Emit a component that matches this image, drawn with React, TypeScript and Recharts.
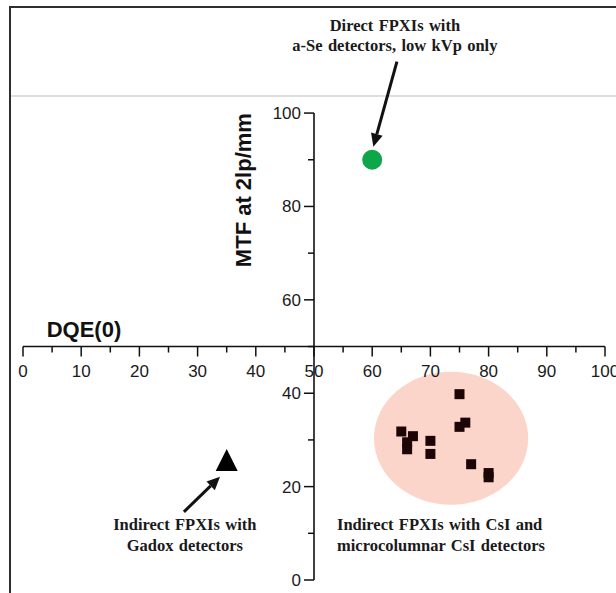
import React from "react";
import {
  ScatterChart,
  Scatter,
  XAxis,
  YAxis,
  ReferenceLine,
  ReferenceDot,
  ReferenceArea,
} from "recharts";

// DQE(0) (%) vs MTF at 2 lp/mm (%)
const seleniumPoints = [{ x: 60, y: 90 }];
const gadoxPoints = [{ x: 35, y: 25.7 }];
const csiPoints = [
  { x: 65, y: 31.8 },
  { x: 67, y: 30.8 },
  { x: 66, y: 29.5 },
  { x: 66, y: 28 },
  { x: 70, y: 29.8 },
  { x: 70, y: 27 },
  { x: 75, y: 39.8 },
  { x: 76, y: 33.7 },
  { x: 75, y: 32.8 },
  { x: 77, y: 24.8 },
  { x: 80, y: 22.9 },
  { x: 80, y: 22 },
];

const xTicks = [0, 5, 10, 15, 20, 25, 30, 35, 40, 45, 50, 55, 60, 65, 70, 75, 80, 85, 90, 95, 100];
const yTicks = [0, 10, 20, 30, 40, 50, 60, 70, 80, 90, 100];
const xLabels = [0, 10, 20, 30, 40, 50, 60, 70, 80, 90, 100];
const yLabels = [0, 20, 40, 60, 80, 100];

// axes cross in the middle of the plot
const crossX = 50;
const crossY = 50;

const csiRegion = { x1: 60.3, x2: 86.8, y1: 16.1, y2: 44.6 };

const notes = [
  { x: 63.9, y: 117.6, anchor: "middle", lines: ["Direct FPXIs with", "a-Se detectors, low kVp only"] },
  { x: 27.8, y: 10.7, anchor: "middle", lines: ["Indirect FPXIs with", "Gadox detectors"] },
  { x: 53.95, y: 10.7, anchor: "start", lines: ["Indirect FPXIs with CsI and", "microcolumnar CsI detectors"] },
];

const arrows = [
  { from: { x: 64.25, y: 111 }, to: { x: 60.2, y: 92.8 } },
  { from: { x: 27.65, y: 14.6 }, to: { x: 33.85, y: 22.1 } },
];

const SANS = "'Liberation Sans', Arial, sans-serif";
const SERIF = "'Liberation Serif', 'Times New Roman', serif";
const INK = "#111";

function Arrow(p: any) {
  const { x1, y1, x2, y2 } = p;
  const a = Math.atan2(y2 - y1, x2 - x1);
  const L = 13;
  const W = 6;
  const bx = x2 - L * Math.cos(a);
  const by = y2 - L * Math.sin(a);
  const nx = -Math.sin(a) * W;
  const ny = Math.cos(a) * W;
  return (
    <g>
      <line x1={x1} y1={y1} x2={bx} y2={by} stroke={INK} strokeWidth={3} />
      <polygon points={`${x2},${y2} ${bx + nx},${by + ny} ${bx - nx},${by - ny}`} fill={INK} />
    </g>
  );
}

function Ellipse(p: any) {
  const { x, y, width, height } = p;
  return (
    <ellipse
      cx={x + width / 2}
      cy={y + height / 2}
      rx={Math.abs(width) / 2}
      ry={Math.abs(height) / 2}
      fill="#fcd5ca"
    />
  );
}

export default function App() {
  return (
    <div
      style={{
        position: "absolute",
        left: 0,
        top: 0,
        width: 616,
        height: 593,
        background: "#fff",
        overflow: "hidden",
      }}
    >
      <div style={{ position: "absolute", left: 9, top: 6, width: 2, height: 587, background: "#2e2e2e" }} />
      <div style={{ position: "absolute", left: 9, top: 6, width: 607, height: 2, background: "#2e2e2e" }} />
      <div style={{ position: "absolute", left: 11, top: 95, width: 605, height: 2, background: "#dedede" }} />
      <div style={{ position: "absolute", left: 0, top: 0 }}>
        <ScatterChart
          width={616}
          height={593}
          margin={{ top: 1, right: 11, bottom: 13, left: 23 }}
          style={{ overflow: "visible" }}
        >
          <XAxis type="number" dataKey="x" domain={[0, 100]} hide />
          <YAxis type="number" dataKey="y" domain={[0, 124]} hide />

          <ReferenceArea
            x1={csiRegion.x1}
            x2={csiRegion.x2}
            y1={csiRegion.y1}
            y2={csiRegion.y2}
            ifOverflow="visible"
            shape={(p: any) => <Ellipse {...p} />}
          />

          <ReferenceLine y={crossY} stroke={INK} strokeWidth={1.6} ifOverflow="visible" />
          <ReferenceLine
            segment={[
              { x: crossX, y: 0 },
              { x: crossX, y: 100 },
            ]}
            stroke={INK}
            strokeWidth={1.6}
            ifOverflow="visible"
          />

          {xTicks.map((v) => (
            <ReferenceDot
              key={`xt${v}`}
              x={v}
              y={crossY}
              ifOverflow="visible"
              shape={(p: any) => {
                const major = xLabels.includes(v);
                return (
                  <g>
                    <line x1={p.cx} y1={p.cy} x2={p.cx} y2={p.cy + (major ? 10 : 6)} stroke={INK} strokeWidth={1.5} />
                    {major && (
                      <text x={p.cx} y={p.cy + 30} textAnchor="middle" fontFamily={SANS} fontSize={17} fill="#1a1a1a">
                        {v}
                      </text>
                    )}
                  </g>
                );
              }}
            />
          ))}

          {yTicks.map((v) => (
            <ReferenceDot
              key={`yt${v}`}
              x={crossX}
              y={v}
              ifOverflow="visible"
              shape={(p: any) => {
                const major = yLabels.includes(v);
                return (
                  <g>
                    <line x1={p.cx} y1={p.cy} x2={p.cx - (major ? 10 : 6)} y2={p.cy} stroke={INK} strokeWidth={1.5} />
                    {major && (
                      <text x={p.cx - 13} y={p.cy + 6} textAnchor="end" fontFamily={SANS} fontSize={17} fill="#1a1a1a">
                        {v}
                      </text>
                    )}
                  </g>
                );
              }}
            />
          ))}

          <ReferenceDot
            x={4.07}
            y={52}
            ifOverflow="visible"
            shape={(p: any) => (
              <text x={p.cx} y={p.cy} fontFamily={SANS} fontWeight="bold" fontSize={22} fill={INK}>
                DQE(0)
              </text>
            )}
          />
          <ReferenceDot
            x={39.2}
            y={83.5}
            ifOverflow="visible"
            shape={(p: any) => (
              <text
                x={p.cx}
                y={p.cy}
                transform={`rotate(-90, ${p.cx}, ${p.cy})`}
                textAnchor="middle"
                fontFamily={SANS}
                fontWeight="bold"
                fontSize={22}
                fill={INK}
              >
                MTF at 2lp/mm
              </text>
            )}
          />

          {notes.map((n, i) => (
            <ReferenceDot
              key={`n${i}`}
              x={n.x}
              y={n.y}
              ifOverflow="visible"
              shape={(p: any) => (
                <text
                  x={p.cx}
                  y={p.cy}
                  textAnchor={n.anchor as any}
                  fontFamily={SERIF}
                  fontWeight="bold"
                  fontSize={16.5}
                  wordSpacing={1.2}
                  fill="#1a1a1a"
                >
                  {n.lines.map((l, j) => (
                    <tspan key={j} x={p.cx} dy={j === 0 ? 0 : 20.5}>
                      {l}
                    </tspan>
                  ))}
                </text>
              )}
            />
          ))}

          {arrows.map((a, i) => (
            <ReferenceLine
              key={`a${i}`}
              segment={[a.from, a.to]}
              ifOverflow="visible"
              shape={(p: any) => <Arrow {...p} />}
            />
          ))}

          <Scatter
            data={csiPoints}
            isAnimationActive={false}
            shape={(p: any) => <rect x={p.cx - 5} y={p.cy - 5} width={10} height={10} fill="#1c0505" />}
          />
          <Scatter
            data={gadoxPoints}
            isAnimationActive={false}
            shape={(p: any) => (
              <polygon
                points={`${p.cx},${p.cy - 11} ${p.cx - 11},${p.cy + 11} ${p.cx + 11},${p.cy + 11}`}
                fill="#000"
              />
            )}
          />
          <Scatter
            data={seleniumPoints}
            isAnimationActive={false}
            shape={(p: any) => <circle cx={p.cx} cy={p.cy} r={10} fill="#0ea64a" />}
          />
        </ScatterChart>
      </div>
    </div>
  );
}
